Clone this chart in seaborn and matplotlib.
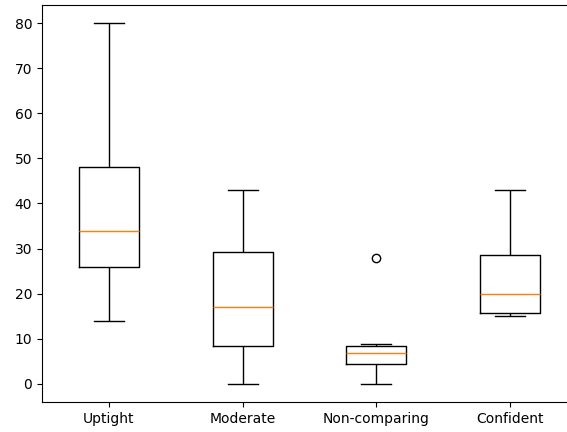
import pandas as pd
import matplotlib
matplotlib.use("Agg")
import matplotlib.pyplot as plt
import seaborn as sns

# raw scores per group
uptight = [14, 26, 34, 48, 80]
moderate = [0, 8.4, 17, 29.2, 43]
non_comparing = [0, 3, 4.5, 5.5, 6.9, 7.5, 8.4, 8.85, 28]
confident = [15.1, 15.7, 20, 28.5, 43]

groups = ["Uptight", "Moderate", "Non-comparing", "Confident"]
values = [uptight, moderate, non_comparing, confident]

df = pd.DataFrame({
    "group": [g for g, v in zip(groups, values) for _ in v],
    "score": [x for v in values for x in v],
})

fig = plt.figure(figsize=(5.67, 4.32), dpi=100)
ax = fig.add_axes([42 / 567, 30 / 432, 535 / 567, 397 / 432])

sns.boxplot(data=df, x="group", y="score", order=groups, ax=ax,
            width=0.45, fill=False, color="black", linewidth=1,
            medianprops={"color": "#ff7f0e"},
            flierprops={"marker": "o", "markerfacecolor": "none",
                        "markeredgecolor": "black", "markersize": 6},
            capprops={"color": "black"},
            whiskerprops={"color": "black"})

ax.set_xlim(-0.5, 3.5)
ax.set_ylim(-4, 84)
ax.set_xlabel("")
ax.set_ylabel("")
# the reference is cropped on the right, so no right spine shows
ax.spines["right"].set_visible(False)

plt.savefig("out.png", dpi=100)
plt.close()
